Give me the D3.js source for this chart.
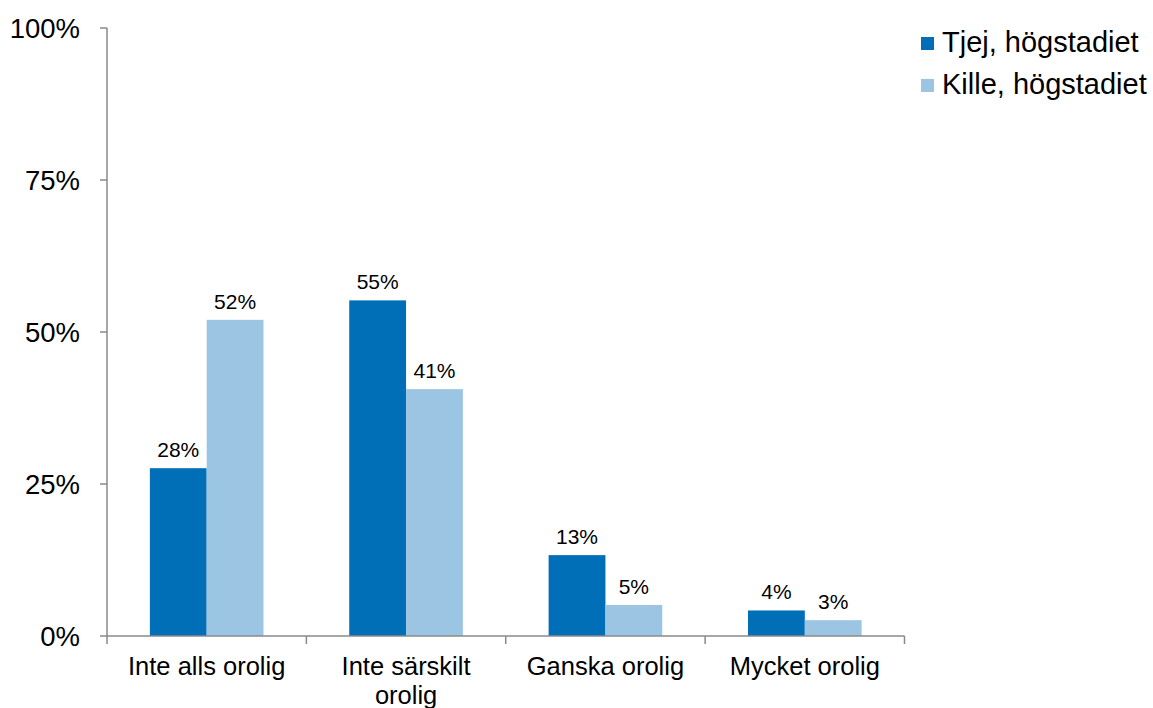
<!DOCTYPE html>
<html lang="sv">
<head>
<meta charset="UTF-8">
<title>Oro</title>
<script src="https://unpkg.com/d3@7.8.5/dist/d3.min.js"></script>
<style>
  body { margin: 0; background: #fff; }
  text { font-family: "Liberation Sans", Arial, sans-serif; fill: #000; }
</style>
</head>
<body>
<svg width="1153" height="708"></svg>
<script>
// data
var categories = [['Inte alls orolig'], ['Inte särskilt', 'orolig'], ['Ganska orolig'], ['Mycket orolig']]
var seriesNames = ['Tjej, högstadiet', 'Kille, högstadiet']
var tjej = [27.6, 55.2, 13.3, 4.2]
var kille = [52.0, 40.6, 5.1, 2.6]
var tjejLabels = ['28%', '55%', '13%', '4%']
var killeLabels = ['52%', '41%', '5%', '3%']
var yTicks = [0, 25, 50, 75, 100]

var colors = ['#006fb8', '#9bc5e3']
var axisColor = '#8a8a8a'

var svg = d3.select('svg')
var plotLeft = 107, plotRight = 904.5, plotTop = 28, plotBottom = 636

var x0 = d3.scaleBand().domain(d3.range(categories.length)).range([plotLeft, plotRight]).paddingInner(0.43).paddingOuter(0.215)
var x1 = d3.scaleBand().domain([0, 1]).range([0, x0.bandwidth()])
var y = d3.scaleLinear().domain([0, 100]).range([plotBottom, plotTop])

// bars + labels
var series = [tjej, kille]
var labels = [tjejLabels, killeLabels]
series.forEach(function (vals, s) {
    var g = svg.append('g')
    g.selectAll('rect').data(vals).enter()
        .append('rect')
        .attr('x', (v, i) => x0(i) + x1(s))
        .attr('y', v => y(v))
        .attr('width', x1.bandwidth())
        .attr('height', v => plotBottom - y(v))
        .attr('fill', colors[s])
    g.selectAll('text').data(vals).enter()
        .append('text')
        .text((v, i) => labels[s][i])
        .attr('x', (v, i) => x0(i) + x1(s) + x1.bandwidth() / 2)
        .attr('y', v => y(v) - 11)
        .attr('text-anchor', 'middle')
        .attr('font-size', '21px')
})

// y axis
var ya = svg.append('g')
ya.append('line').attr('x1', plotLeft).attr('x2', plotLeft).attr('y1', plotTop).attr('y2', plotBottom)
    .attr('stroke', axisColor).attr('stroke-width', 1.5)
ya.selectAll('line.t').data(yTicks).enter().append('line').attr('class', 't')
    .attr('x1', plotLeft - 7).attr('x2', plotLeft).attr('y1', d => y(d)).attr('y2', d => y(d))
    .attr('stroke', axisColor).attr('stroke-width', 1.5)
ya.selectAll('text').data(yTicks).enter().append('text')
    .text(d => d + '%')
    .attr('x', 80).attr('y', d => y(d) + 10)
    .attr('text-anchor', 'end').attr('font-size', '27.5px')

// x axis
var xa = svg.append('g')
xa.append('line').attr('x1', plotLeft).attr('x2', plotRight).attr('y1', plotBottom).attr('y2', plotBottom)
    .attr('stroke', axisColor).attr('stroke-width', 1.5)
var bounds = d3.range(categories.length + 1).map(i => plotLeft + i * (plotRight - plotLeft) / categories.length)
xa.selectAll('line.t').data(bounds).enter().append('line').attr('class', 't')
    .attr('x1', d => d).attr('x2', d => d).attr('y1', plotBottom).attr('y2', plotBottom + 8)
    .attr('stroke', axisColor).attr('stroke-width', 1.5)
xa.selectAll('text').data(categories).enter().append('text')
    .attr('x', (d, i) => x0(i) + x0.bandwidth() / 2)
    .attr('y', 675)
    .attr('text-anchor', 'middle').attr('font-size', '25.5px')
    .each(function (d) {
        var t = d3.select(this)
        d.forEach(function (line, k) {
            t.append('tspan').attr('x', t.attr('x')).attr('dy', k === 0 ? 0 : 29).text(line)
        })
    })

// legend
var legend = svg.append('g').attr('transform', 'translate(921, 37)')
legend.selectAll('rect').data(seriesNames).enter().append('rect')
    .attr('x', 0).attr('y', (d, i) => i * 42).attr('width', 13).attr('height', 13)
    .attr('fill', (d, i) => colors[i])
legend.selectAll('text').data(seriesNames).enter().append('text')
    .text(d => d)
    .attr('x', 21).attr('y', (d, i) => i * 42 + 15)
    .attr('font-size', '29px')
</script>
</body>
</html>
